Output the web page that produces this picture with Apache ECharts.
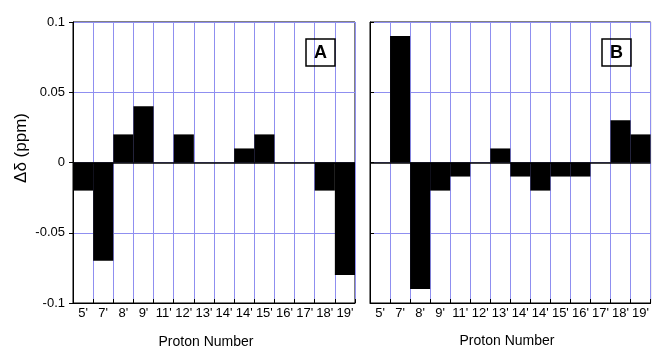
<!DOCTYPE html>
<html>
<head>
<meta charset="utf-8">
<script src="https://cdn.jsdelivr.net/npm/echarts@6/dist/echarts.min.js"></script>
<style>
html,body{margin:0;padding:0;background:#fff;}
#c{width:652px;height:350px;}
</style>
</head>
<body>
<div id="c"></div>
<script>
var categories = ["5'", "7'", "8'", "9'", "11'", "12'", "13'", "14'", "14'", "15'", "16'", "17'", "18'", "19'"];
var valuesA = [-0.02, -0.07, 0.02, 0.04, 0, 0.02, 0, 0, 0.01, 0.02, 0, 0, -0.02, -0.08];
var valuesB = [0, 0.09, -0.09, -0.02, -0.01, 0, 0.01, -0.01, -0.02, -0.01, -0.01, 0, 0.03, 0.02];
var panelLabels = ['A', 'B'];
var yName = 'Δδ (ppm)';
var xName = 'Proton Number';

var FONT = "'Liberation Sans', Arial, Helvetica, sans-serif";
var GRIDBLUE = '#8f8ff0';

var chart = echarts.init(document.getElementById('c'));

function xAxisFor(idx) {
  return {
    type: 'category', gridIndex: idx, data: categories,
    boundaryGap: true,
    axisLine: { show: true, onZero: false, lineStyle: { color: '#000', width: 1 } },
    axisTick: { show: true, inside: true, length: 4, lineStyle: { color: '#000' } },
    axisLabel: { show: true, interval: 0, margin: 4, color: '#000', fontSize: 13, fontFamily: FONT },
    splitLine: { show: true, interval: 0, lineStyle: { color: GRIDBLUE, width: 1 } }
  };
}
function yAxisFor(idx) {
  return {
    type: 'value', gridIndex: idx, min: -0.1, max: 0.1, interval: 0.05,
    axisLine: { show: true, lineStyle: { color: '#000', width: 1 } },
    axisTick: { show: true, inside: idx === 1, length: 4, lineStyle: { color: '#000' } },
    axisLabel: { show: idx === 0, margin: 8, color: '#000', fontSize: 13, fontFamily: FONT },
    splitLine: { show: true, lineStyle: { color: GRIDBLUE, width: 1 } }
  };
}
function seriesFor(idx, vals) {
  return {
    type: 'bar', xAxisIndex: idx, yAxisIndex: idx, data: vals,
    barCategoryGap: '0%', barGap: '0%',
    itemStyle: { color: '#000' },
    silent: true,
    markLine: {
      silent: true, symbol: 'none', label: { show: false },
      lineStyle: { color: '#000', width: 1.5, type: 'solid' },
      data: [{ yAxis: 0 }]
    }
  };
}

chart.setOption({
  backgroundColor: '#fff',
  animation: false,
  grid: [
    { left: 73, top: 22, width: 282, height: 281, show: true, borderColor: '#000', borderWidth: 1, backgroundColor: 'transparent' },
    { left: 370, top: 22, width: 281, height: 281, show: true, borderColor: '#000', borderWidth: 1, backgroundColor: 'transparent' }
  ],
  title: [
    { text: panelLabels[0], left: 306, top: 39, padding: [5, 8, 4, 8], borderColor: '#000', borderWidth: 1.5,
      textStyle: { fontSize: 18, fontWeight: 'bold', color: '#000', fontFamily: FONT } },
    { text: panelLabels[1], left: 602, top: 39, padding: [5, 8, 4, 8], borderColor: '#000', borderWidth: 1.5,
      textStyle: { fontSize: 18, fontWeight: 'bold', color: '#000', fontFamily: FONT } }
  ],
  xAxis: [xAxisFor(0), xAxisFor(1)],
  yAxis: [yAxisFor(0), yAxisFor(1)],
  series: [seriesFor(0, valuesA), seriesFor(1, valuesB)],
  graphic: [
    { type: 'text', x: 21, y: 148, rotation: Math.PI / 2,
      style: { text: yName, fontSize: 17, fontFamily: FONT, fill: '#000', align: 'center', verticalAlign: 'middle' } },
    { type: 'text', x: 206, y: 342,
      style: { text: xName, fontSize: 14, fontFamily: FONT, fill: '#000', align: 'center', verticalAlign: 'middle' } },
    { type: 'text', x: 507, y: 341,
      style: { text: xName, fontSize: 14, fontFamily: FONT, fill: '#000', align: 'center', verticalAlign: 'middle' } }
  ]
});
</script>
</body>
</html>
